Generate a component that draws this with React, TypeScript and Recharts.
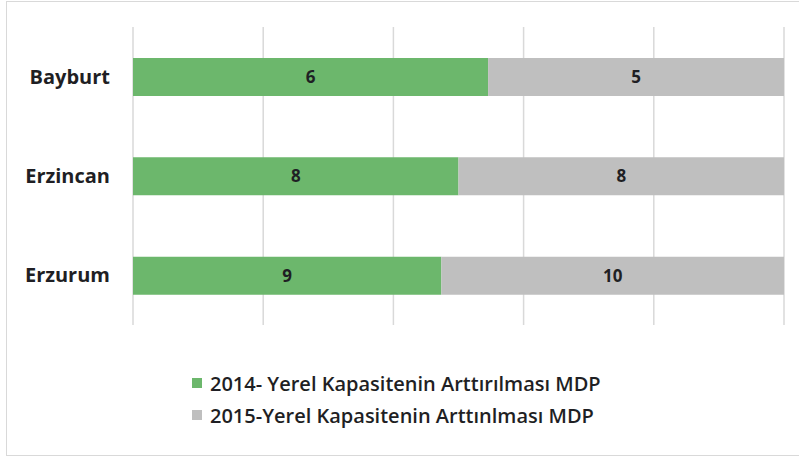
import React from 'react';
import { BarChart, Bar, XAxis, YAxis, CartesianGrid, LabelList } from 'recharts';

const categories = ['Bayburt', 'Erzincan', 'Erzurum'];
const values2014 = [6, 8, 9];
const values2015 = [5, 8, 10];
const seriesNames = ['2014- Yerel Kapasitenin Arttırılması MDP', '2015-Yerel Kapasitenin Arttınlması MDP'];
const seriesColors = ['#6cb76c', '#bfbfbf'];
const xTicks = [0, 0.2, 0.4, 0.6, 0.8, 1];

const data = categories.map((name, i) => ({ name, s2014: values2014[i], s2015: values2015[i] }));

const FONT = '"Open Sans", "DejaVu Sans", sans-serif';

export default function App() {
  return (
    <div style={{ position: 'absolute', left: 0, top: 0, width: 799, height: 458, background: '#fff' }}>
      <div
        style={{
          position: 'absolute',
          left: 6,
          top: 1,
          width: 800,
          height: 453,
          borderLeft: '1px solid #d9d9d9',
          borderTop: '1px solid #d9d9d9',
          borderBottom: '1px solid #d9d9d9',
        }}
      />
      <div style={{ position: 'absolute', left: 0, top: 0 }}>
        <BarChart
          width={799}
          height={458}
          data={data}
          layout="vertical"
          stackOffset="expand"
          margin={{ top: 27, right: 15, bottom: 133, left: 0 }}
          barSize={38}
        >
          <CartesianGrid horizontal={false} vertical={true} stroke="#d9d9d9" strokeWidth={1.5} />
          <XAxis
            type="number"
            domain={[0, 1]}
            ticks={xTicks}
            interval={0}
            height={0}
            tick={{ fill: 'transparent', fontSize: 1 }}
            axisLine={false}
            tickLine={false}
          />
          <YAxis
            type="category"
            dataKey="name"
            width={133}
            axisLine={false}
            tickLine={false}
            tickSize={0}
            tickMargin={23}
            tick={{ fill: '#1f1f24', fontSize: 20, fontWeight: 700, fontFamily: FONT }}
          />
          <Bar dataKey="s2014" stackId="a" fill={seriesColors[0]} isAnimationActive={false} name={seriesNames[0]}>
            <LabelList
              dataKey="s2014"
              position="center"
              style={{ fill: '#1f1f24', fontSize: 17, fontWeight: 700, fontFamily: FONT }}
            />
          </Bar>
          <Bar dataKey="s2015" stackId="a" fill={seriesColors[1]} isAnimationActive={false} name={seriesNames[1]}>
            <LabelList
              dataKey="s2015"
              position="center"
              style={{ fill: '#1f1f24', fontSize: 17, fontWeight: 700, fontFamily: FONT }}
            />
          </Bar>
        </BarChart>
      </div>
      {seriesNames.map((n, i) => (
        <div
          key={n}
          style={{
            position: 'absolute',
            left: 192,
            top: 371 + i * 32,
            height: 24,
            display: 'flex',
            alignItems: 'center',
            fontFamily: FONT,
            fontSize: 20,
            fontWeight: 600,
            color: '#1f1f24',
            whiteSpace: 'nowrap',
          }}
        >
          <span style={{ display: 'inline-block', width: 10, height: 10, background: seriesColors[i], marginRight: 8 }} />
          <span>{n}</span>
        </div>
      ))}
    </div>
  );
}
